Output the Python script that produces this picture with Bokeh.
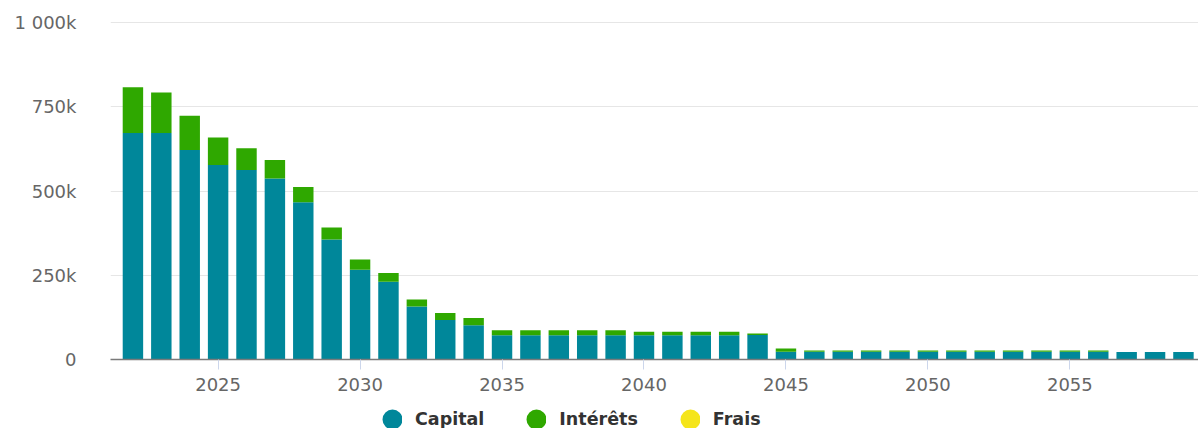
from bokeh.plotting import figure
from bokeh.layouts import column
from bokeh.models import ColumnDataSource, FixedTicker, Legend, LegendItem, Range1d
from bokeh.embed import file_html
from bokeh.resources import INLINE

# ---- data (values in thousands) ----
years = list(range(2022, 2060))
capital = [672, 672, 622, 577, 562, 537, 467, 356, 266, 231, 157, 117, 102,
           72, 72, 72, 72, 72, 72, 72, 72, 72, 73,
           23, 23, 23, 23, 23, 23, 23, 23, 23, 23, 23, 23,
           22, 22, 22]
interets = [136, 120, 101, 82, 65, 55, 45, 36, 31, 26, 21, 21, 21,
            15, 15, 15, 15, 15, 10, 10, 10, 10, 4,
            10, 4, 4, 4, 4, 4, 4, 4, 4, 4, 4, 4,
            0, 0, 0]
frais = [0] * len(years)
series_names = ["Capital", "Intérêts", "Frais"]
series_colors = ["#00879A", "#2FA800", "#F5E51A"]
x_ticks = [2025, 2030, 2035, 2040, 2045, 2050, 2055]
y_ticks = [0, 250, 500, 750, 1000]
y_tick_labels = ["0", "250k", "500k", "750k", "1 000k"]

src = ColumnDataSource(dict(year=years, capital=capital, interets=interets, frais=frais))

p = figure(width=1198, height=398, output_backend="svg", toolbar_location=None,
           x_range=Range1d(2021.21, 2059.53), y_range=Range1d(0, 1003),
           min_border_left=110, min_border_right=0, min_border_top=21, min_border_bottom=39)
p.outline_line_color = None
p.background_fill_color = "white"
p.border_fill_color = "white"

p.vbar_stack(["capital", "interets", "frais"], x="year", width=0.72, source=src,
             fill_color=series_colors, line_color=None)

# axes
xa = p.xaxis[0]
xa.ticker = FixedTicker(ticks=x_ticks)
xa.axis_line_color = "#7a7a7a"
xa.axis_line_width = 1.5
xa.major_tick_line_color = "#ccd6eb"
xa.major_tick_in = 0
xa.major_tick_out = 10
xa.minor_tick_line_color = None
xa.major_label_standoff = 8
xa.major_label_text_font = "DejaVu Sans"
xa.major_label_text_font_size = "18px"
xa.major_label_text_color = "#666666"

ya = p.yaxis[0]
ya.ticker = FixedTicker(ticks=y_ticks)
ya.major_label_overrides = {t: l for t, l in zip(y_ticks, y_tick_labels)}
ya.axis_line_color = None
ya.major_tick_line_color = None
ya.minor_tick_line_color = None
ya.major_tick_in = 0
ya.major_tick_out = 0
ya.major_label_standoff = 34
ya.major_label_text_font = "DejaVu Sans"
ya.major_label_text_font_size = "18px"
ya.major_label_text_color = "#666666"

p.xgrid.grid_line_color = None
p.ygrid.grid_line_color = "#e6e6e6"
p.ygrid.grid_line_width = 1

# ---- legend strip ----
lg = figure(width=1198, height=30, output_backend="svg", toolbar_location=None,
            x_range=Range1d(0, 1), y_range=Range1d(0, 1),
            min_border=0, x_axis_location=None, y_axis_location=None)
lg.outline_line_color = None
lg.grid.grid_line_color = None
lg.background_fill_color = "white"
lg.border_fill_color = "white"

# legend proxies: one point each, placed outside the visible range
proxies = []
for name, col in zip(series_names, series_colors):
    r = lg.scatter(x=[-10], y=[-10], marker="circle", fill_color=col, line_color=col,
                   line_width=12, size=8)
    proxies.append(r)

legend = Legend(items=[LegendItem(label=n, renderers=[r]) for n, r in zip(series_names, proxies)],
                orientation="horizontal", location=(272, -1),
                glyph_width=20, glyph_height=20, label_standoff=13, spacing=42,
                padding=0, margin=0, border_line_color=None, background_fill_alpha=0,
                label_text_font="DejaVu Sans", label_text_font_style="bold",
                label_text_font_size="17.5px", label_text_color="#333333")
lg.add_layout(legend, "center")

layout = column(p, lg, spacing=0)
open("out.html", "w").write(file_html(layout, INLINE))
